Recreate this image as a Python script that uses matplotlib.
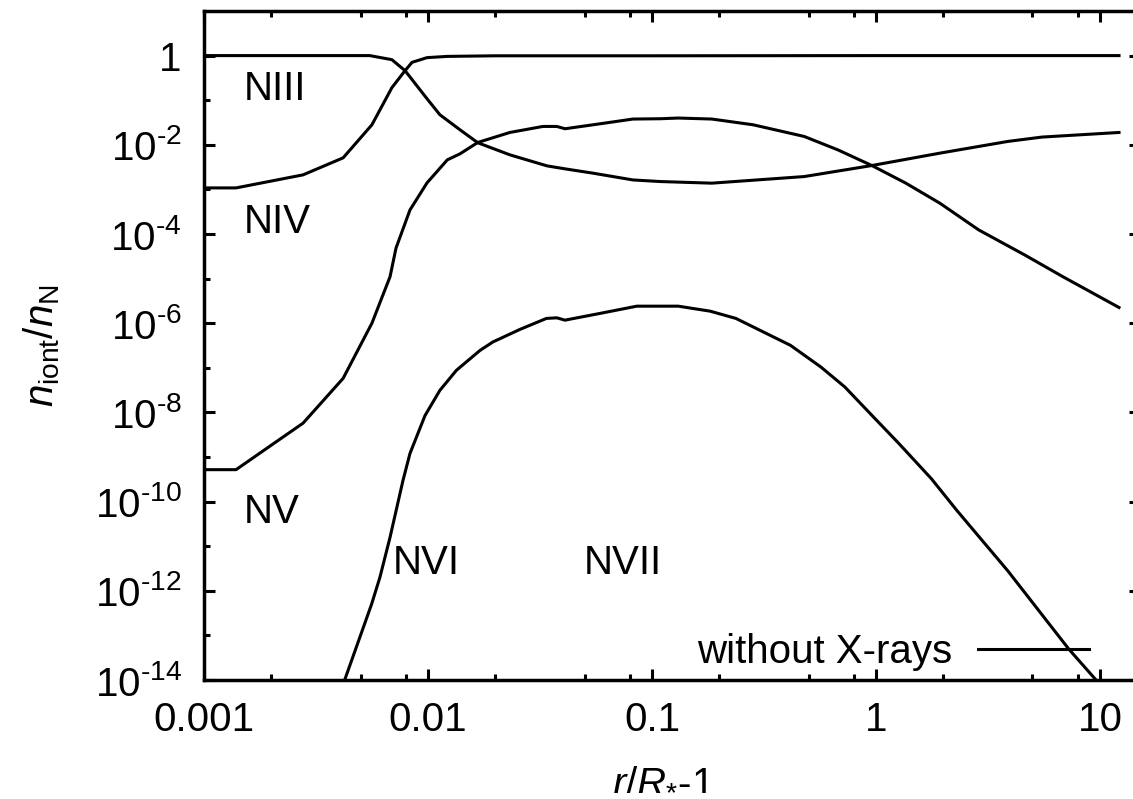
import numpy as np
import matplotlib
matplotlib.use("Agg")
import matplotlib.pyplot as plt
from matplotlib.ticker import LogLocator, FixedLocator, NullFormatter

plt.rcParams['font.family'] = 'Liberation Sans'
plt.rcParams['mathtext.fontset'] = 'custom'
plt.rcParams['mathtext.rm'] = 'Liberation Sans'
plt.rcParams['mathtext.it'] = 'Liberation Sans:italic'
plt.rcParams['mathtext.bf'] = 'Liberation Sans:bold'

# ionisation fractions of nitrogen vs. radius (no X-rays)
x_n3 = [1.0e-3, 3.0e-3, 5.5e-3, 6.9e-3, 7.9e-3, 9.9e-3, 1.13e-2, 1.39e-2, 1.67e-2,
        2.32e-2, 3.4e-2, 4.09e-2, 5.46e-2, 8.22e-2, 0.109, 0.185, 0.478, 0.959,
        1.93, 3.88, 5.51, 12.17]
y_n3 = [1.0, 1.0, 1.0, 0.81, 0.46, 0.108, 4.72e-2, 2.17e-2, 1.11e-2,
        5.96e-3, 3.37e-3, 2.89e-3, 2.31e-3, 1.63e-3, 1.50e-3, 1.38e-3, 1.94e-3, 3.43e-3,
        6.5e-3, 1.19e-2, 1.49e-2, 1.89e-2]

x_n4 = [1.0e-3, 1.39e-3, 2.77e-3, 4.18e-3, 5.62e-3, 6.9e-3, 7.9e-3, 8.49e-3,
        9.9e-3, 1.22e-2, 2.0e-2, 0.1, 1.0, 12.17]
y_n4 = [1.08e-3, 1.08e-3, 2.12e-3, 5.1e-3, 2.81e-2, 0.191, 0.46, 0.707,
        0.90, 0.96, 0.99, 0.99, 1.0, 1.0]

x_n5 = [1.0e-3, 1.39e-3, 2.77e-3, 4.18e-3, 5.62e-3, 6.77e-3, 7.2e-3, 8.31e-3,
        9.9e-3, 1.22e-2, 1.39e-2, 1.67e-2, 2.32e-2, 3.26e-2, 3.76e-2, 4.09e-2,
        5.46e-2, 8.22e-2, 0.109, 0.131, 0.185, 0.283, 0.478, 0.676, 0.959, 1.36,
        1.93, 2.88, 4.62, 6.84, 12.17]
y_n5 = [5.2e-10, 5.2e-10, 5.75e-9, 5.8e-8, 1.0e-6, 1.1e-5, 4.84e-5, 3.46e-4,
        1.4e-3, 4.6e-3, 6.28e-3, 1.13e-2, 1.89e-2, 2.58e-2, 2.58e-2, 2.29e-2,
        2.81e-2, 3.78e-2, 3.84e-2, 3.98e-2, 3.78e-2, 2.81e-2, 1.54e-2, 7.7e-3, 3.43e-3, 1.38e-3,
        4.9e-4, 1.23e-4, 3.38e-5, 1.1e-5, 2.25e-6]

x_n6 = [3.9e-3, 5.6e-3, 6.1e-3, 6.77e-3, 7.73e-3, 8.31e-3, 9.7e-3, 1.13e-2,
        1.34e-2, 1.71e-2, 1.95e-2, 2.58e-2, 3.38e-2, 3.76e-2, 4.09e-2, 5.87e-2,
        8.56e-2, 0.131, 0.182, 0.237, 0.3365, 0.415, 0.568, 0.727, 0.959, 1.267,
        1.77, 2.30, 3.88, 7.27, 9.7, 12.17]
y_n6 = [3.0e-15, 5.0e-13, 2.0e-12, 1.58e-11, 2.95e-10, 1.2e-9, 8.5e-9, 3.12e-8,
        8.8e-8, 2.47e-7, 3.8e-7, 7.3e-7, 1.28e-6, 1.32e-6, 1.17e-6, 1.66e-6,
        2.41e-6, 2.41e-6, 1.86e-6, 1.28e-6, 5.37e-7, 3.2e-7, 1.04e-7, 3.7e-8, 8.6e-9, 2.0e-9,
        3.24e-10, 6.3e-11, 2.8e-12, 4.9e-14, 9.5e-15, 2.5e-15]

ion_names = ['NIII', 'NIV', 'NV', 'NVI', 'NVII']

fig = plt.figure(figsize=(11.33, 7.99), dpi=100)
# right spine sits just past the figure edge
ax = fig.add_axes([204 / 1133, 119 / 799, 936 / 1133, 669 / 799])

lw = 2.2
ax.plot(x_n3, y_n3, color='black', lw=lw, label='without X-rays')
ax.plot(x_n4, y_n4, color='black', lw=lw)
ax.plot(x_n5, y_n5, color='black', lw=lw)
ax.plot(x_n6, y_n6, color='black', lw=lw)

ax.set_xscale('log')
ax.set_yscale('log')
ax.set_xlim(1e-3, 15.1)
ax.set_ylim(1e-14, 10)

fs = 29
xt = [1e-3, 1e-2, 1e-1, 1, 10]
ax.set_xticks(xt)
ax.set_xticklabels(['0.001', '0.01', '0.1', '1', '10'])
ax.xaxis.set_minor_locator(LogLocator(base=10, subs=[2, 5, 8], numticks=20))
ax.xaxis.set_minor_formatter(NullFormatter())

yt = [10.0 ** k for k in range(0, -15, -2)]
ax.set_yticks(yt)
ax.set_yticklabels(['1'] + [r'10$^{\text{%d}}$' % k for k in range(-2, -15, -2)])
ax.yaxis.set_minor_locator(FixedLocator([10.0 ** k for k in range(-1, -15, -2)]))
ax.yaxis.set_minor_formatter(NullFormatter())

ax.tick_params(which='both', direction='in', top=True, right=True, width=2.2,
               labelsize=fs)
ax.tick_params(which='major', length=8)
ax.tick_params(which='minor', length=4.2)
ax.tick_params(axis='x', which='major', pad=15)
ax.tick_params(axis='y', which='major', pad=16)
for s in ax.spines.values():
    s.set_linewidth(2.5)

ax.set_xlabel(r'$r/R_{*}$-1', fontsize=fs)
ax.set_ylabel(r'$n_{\mathrm{iont}}/n_{\mathrm{N}}$', fontsize=fs)
ax.xaxis.set_label_coords((663 - 204) / 936, (680 - 760) / 669)
ax.yaxis.set_label_coords((62 - 204) / 936, 0.5)

# ion labels
ax.text(1.51e-3, 0.1026, ion_names[0], fontsize=fs, va='baseline')
ax.text(1.51e-3, 1.05e-4, ion_names[1], fontsize=fs, va='baseline')
ax.text(1.51e-3, 3.25e-11, ion_names[2], fontsize=fs, va='baseline')
ax.text(6.98e-3, 2.4e-12, ion_names[3], fontsize=fs, va='baseline')
ax.text(4.97e-2, 2.4e-12, ion_names[4], fontsize=fs, va='baseline')

ax.legend(loc='lower right', bbox_to_anchor=((1089 - 204) / 936, 0.0135),
          markerfirst=False, frameon=False, fontsize=fs, borderpad=0,
          borderaxespad=0, handlelength=2.75, handletextpad=0.65)

fig.savefig('out.png', dpi=100)
